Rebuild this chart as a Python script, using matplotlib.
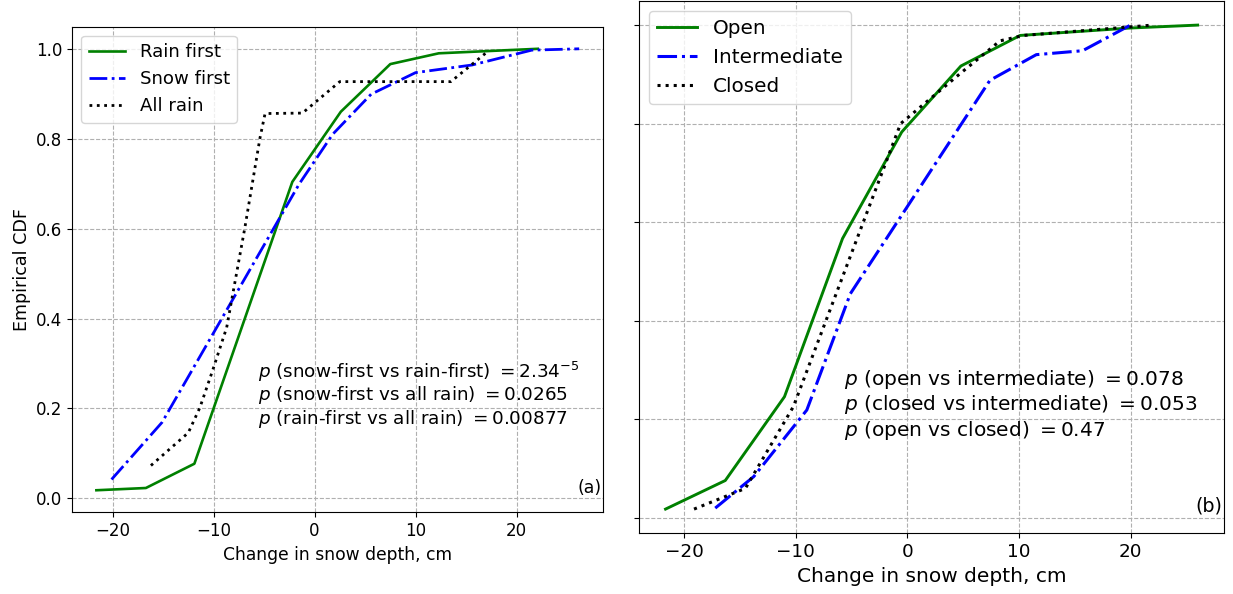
#!/usr/bin/env python
# -*- coding: utf-8 -*-
r"""
Empirical CDFs of the change in snow depth, two panels
"""
import matplotlib
matplotlib.use('Agg')
import matplotlib.pyplot as plt

# panel (a): rain-on-snow event type
rain_first_x = [-21.6, -16.7, -11.9, -2.2, 2.6, 7.5, 12.3, 22.1]
rain_first_y = [0.018, 0.023, 0.077, 0.704, 0.860, 0.966, 0.990, 1.0]
snow_first_x = [-20.1, -15.1, -1.5, 1.8, 5.6, 10.0, 15.6, 21.5, 26.2]
snow_first_y = [0.042, 0.169, 0.700, 0.810, 0.899, 0.947, 0.964, 0.997, 1.0]
all_rain_x = [-16.2, -12.5, -11.35, -10.1, -8.7, -6.9, -5.4, -4.9, -1.2,
              2.5, 13.5, 17.2]
all_rain_y = [0.073, 0.146, 0.202, 0.284, 0.380, 0.602, 0.802, 0.856, 0.857,
              0.927, 0.927, 0.995]

# panel (b): canopy class
open_x = [-21.65, -16.3, -11.0, -5.8, -0.5, 4.8, 10.1, 19.9, 26.0]
open_y = [0.018, 0.076, 0.246, 0.567, 0.783, 0.917, 0.979, 0.994, 1.0]
intermediate_x = [-17.2, -13.75, -9.0, -5.1, 7.4, 11.55, 15.7, 19.9]
intermediate_y = [0.020, 0.084, 0.219, 0.455, 0.888, 0.940, 0.948, 0.999]
closed_x = [-19.1, -14.5, -10.2, -0.6, 4.7, 8.3, 10.4, 22.0]
closed_y = [0.018, 0.060, 0.226, 0.800, 0.901, 0.968, 0.979, 1.0]

pvals_a = [r'$p$ (snow-first vs rain-first) $=2.34^{-5}$',
           r'$p$ (snow-first vs all rain) $=0.0265$',
           r'$p$ (rain-first vs all rain) $=0.00877$']
pvals_b = [r'$p$ (open vs intermediate) $=0.078$',
           r'$p$ (closed vs intermediate) $=0.053$',
           r'$p$ (open vs closed) $=0.47$']

yticks = [0.0, 0.2, 0.4, 0.6, 0.8, 1.0]
xticks = [-20, -10, 0, 10, 20]


def panel(ax, series, labels, pvals, tag, s, show_ylabels):
    # s scales fonts and line widths (panel b is drawn ~10% larger)
    styles = [dict(color='green', ls='-', lw=1.9 * s),
              dict(color='blue', ls='-.', lw=2.0 * s),
              dict(color='black', ls=':', lw=2.0 * s)]
    for (x, y), lab, st in zip(series, labels, styles):
        ax.plot(x, y, label=lab, **st)

    ax.grid(True, linestyle='--', color='#b0b0b0', lw=0.8)
    ax.set_xticks(xticks)
    ax.set_yticks(yticks)
    ax.tick_params(labelsize=12 * s)
    if show_ylabels:
        ax.set_ylabel('Empirical CDF', fontsize=12.6)
    else:
        ax.set_yticklabels([])
    ax.set_xlabel('Change in snow depth, cm', fontsize=12.3 if s == 1 else 14.5)
    ax.legend(loc='upper left', fontsize=13.1 * s)

    for i, txt in enumerate(pvals):
        ax.text(0.350, 0.2895 - i * 0.0482, txt, transform=ax.transAxes,
                fontsize=13.2 * s, va='center', ha='left')
    ax.text(0.996, 0.051, tag, transform=ax.transAxes, fontsize=12.5 * s,
            ha='right', va='center')


def main():
    fig = plt.figure(figsize=(12.33, 5.94), dpi=100)
    ax1 = fig.add_axes([0.0586, 0.1375, 0.4307, 0.8175])
    ax2 = fig.add_axes([0.5182, 0.1022, 0.4747, 0.8963])

    panel(ax1, [(rain_first_x, rain_first_y), (snow_first_x, snow_first_y),
                (all_rain_x, all_rain_y)],
          ['Rain first', 'Snow first', 'All rain'], pvals_a, '(a)', 1.0, True)
    panel(ax2, [(open_x, open_y), (intermediate_x, intermediate_y),
                (closed_x, closed_y)],
          ['Open', 'Intermediate', 'Closed'], pvals_b, '(b)', 1.1, False)

    fig.savefig('out.png', dpi=100)


if __name__ == '__main__':
    main()
